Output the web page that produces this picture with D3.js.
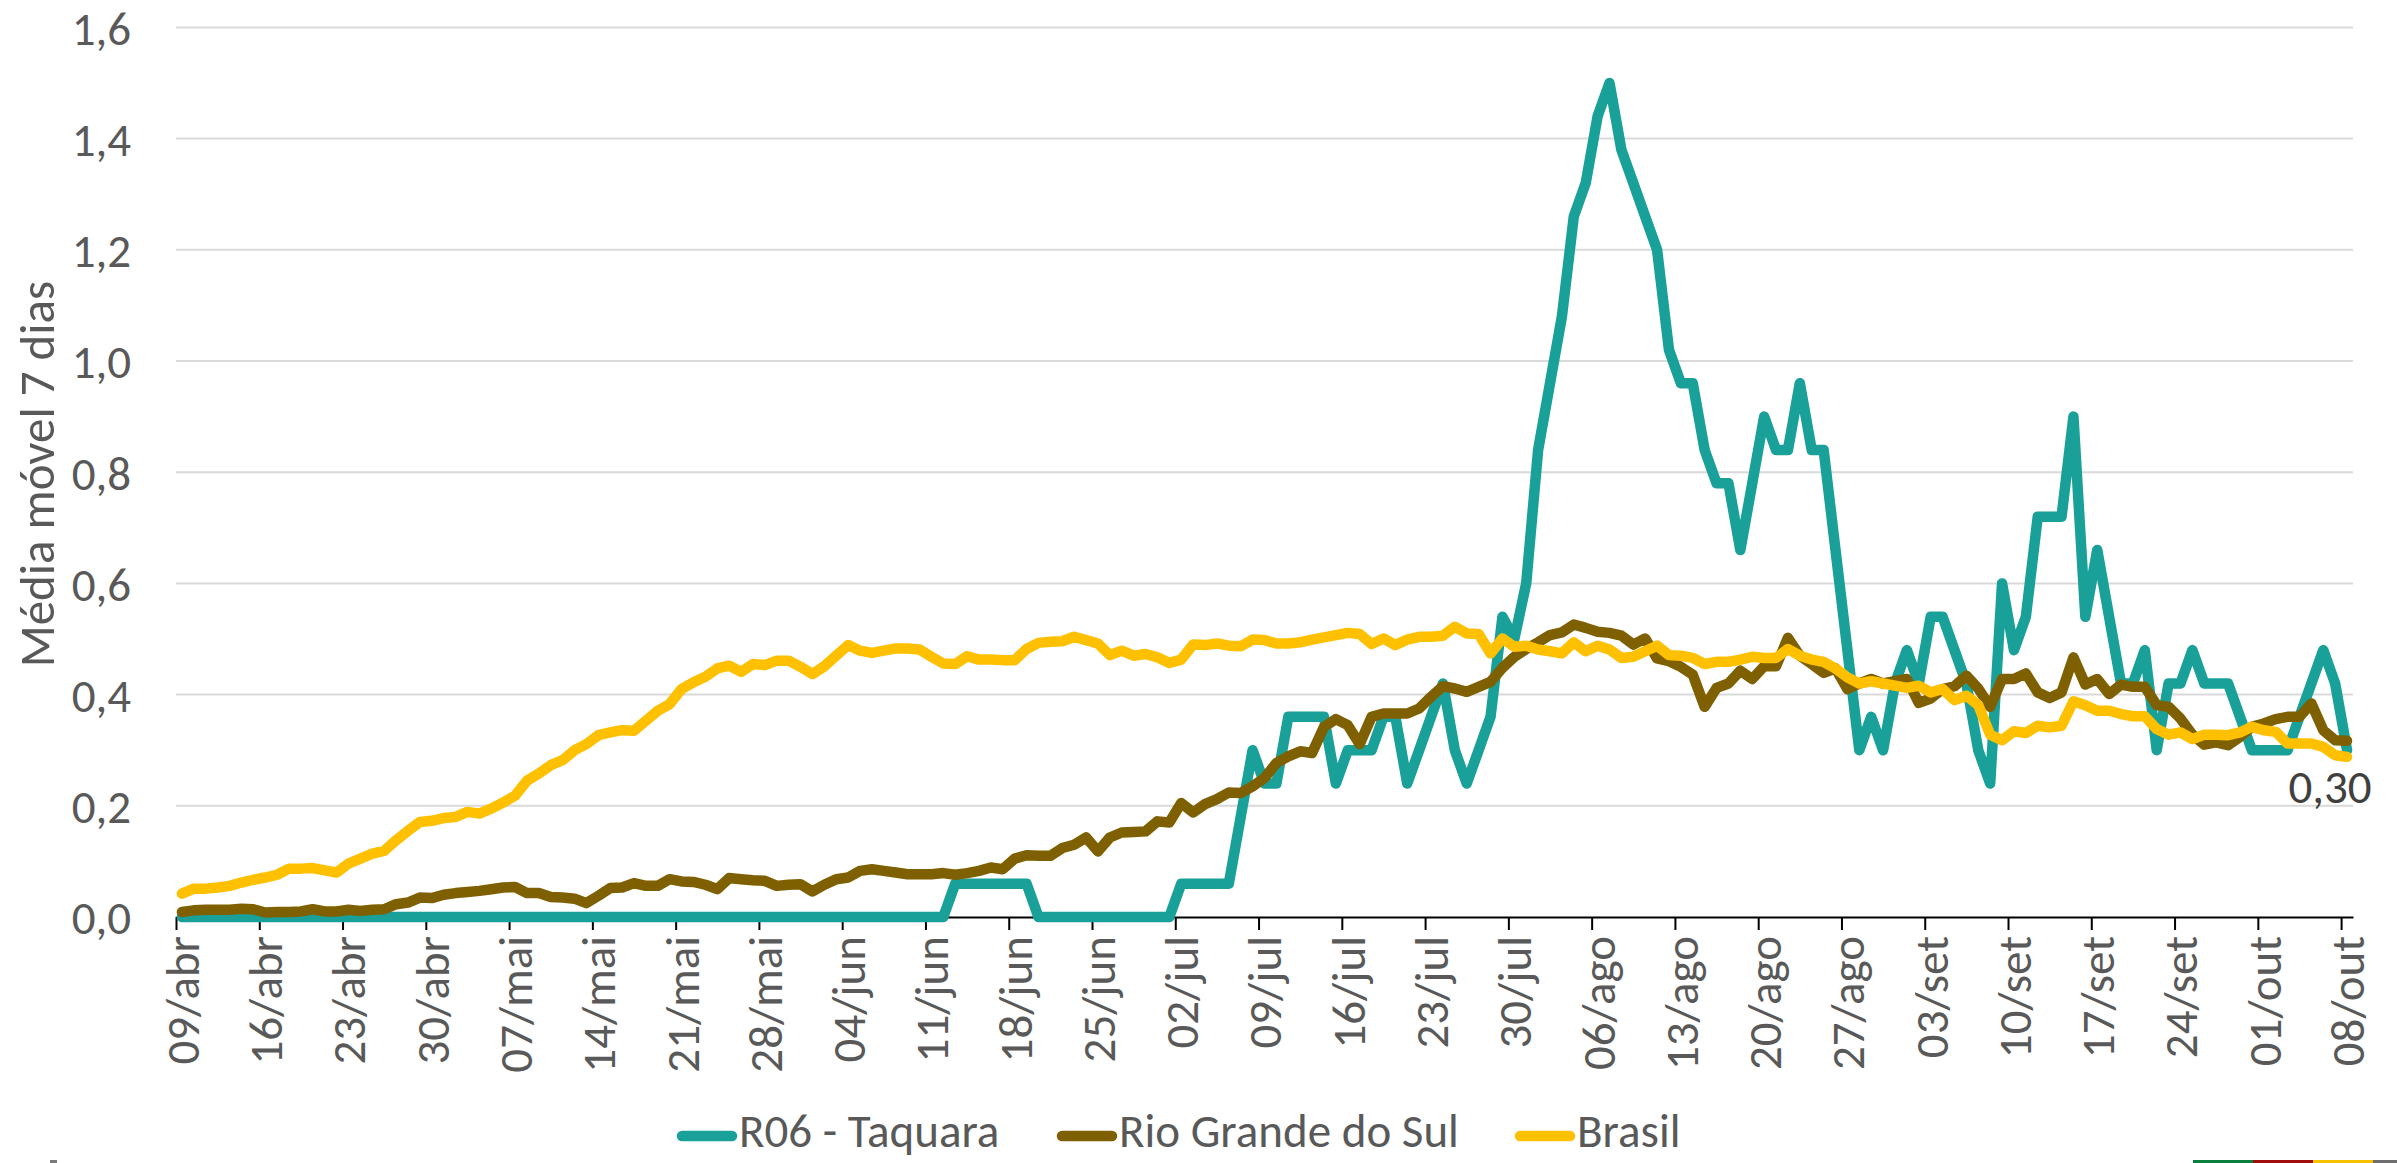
<!DOCTYPE html>
<html lang="pt-BR">
<head>
<meta charset="utf-8">
<title>Média móvel 7 dias</title>
<script src="https://cdn.jsdelivr.net/npm/d3@7"></script>
<style>
  html, body { margin: 0; padding: 0; background: #fff; }
  svg { display: block; }
  text { font-family: Carlito, Calibri, Lato, 'Liberation Sans', sans-serif; }
</style>
</head>
<body>
<div id="chart"></div>
<script>
// daily 7-day moving averages, 09/abr .. 08/out (one row = one week)
const tickLabels = [
    '09/abr', '16/abr', '23/abr', '30/abr', '07/mai', '14/mai', '21/mai', '28/mai',
    '04/jun', '11/jun', '18/jun', '25/jun', '02/jul', '09/jul', '16/jul', '23/jul',
    '30/jul', '06/ago', '13/ago', '20/ago', '27/ago', '03/set', '10/set', '17/set',
    '24/set', '01/out', '08/out'
];

const taquara = [
    0, 0, 0, 0, 0, 0, 0,
    0, 0, 0, 0, 0, 0, 0,
    0, 0, 0, 0, 0, 0, 0,
    0, 0, 0, 0, 0, 0, 0,
    0, 0, 0, 0, 0, 0, 0,
    0, 0, 0, 0, 0, 0, 0,
    0, 0, 0, 0, 0, 0, 0,
    0, 0, 0, 0, 0, 0, 0,
    0, 0, 0, 0, 0, 0, 0,
    0, 0, 0.06, 0.06, 0.06, 0.06, 0.06,
    0.06, 0.06, 0, 0, 0, 0, 0,
    0, 0, 0, 0, 0, 0, 0,
    0.06, 0.06, 0.06, 0.06, 0.06, 0.18, 0.30,
    0.24, 0.24, 0.36, 0.36, 0.36, 0.36, 0.24,
    0.30, 0.30, 0.30, 0.36, 0.36, 0.24, 0.30,
    0.36, 0.42, 0.30, 0.24, 0.30, 0.36, 0.54,
    0.50, 0.60, 0.84, 0.96, 1.08, 1.26, 1.32,
    1.44, 1.50, 1.38, 1.32, 1.26, 1.20, 1.02,
    0.96, 0.96, 0.84, 0.78, 0.78, 0.66, 0.78,
    0.90, 0.84, 0.84, 0.96, 0.84, 0.84, 0.66,
    0.48, 0.30, 0.36, 0.30, 0.42, 0.48, 0.42,
    0.54, 0.54, 0.48, 0.42, 0.30, 0.24, 0.60,
    0.48, 0.54, 0.72, 0.72, 0.72, 0.90, 0.54,
    0.66, 0.54, 0.42, 0.42, 0.48, 0.30, 0.42,
    0.42, 0.48, 0.42, 0.42, 0.42, 0.36, 0.30,
    0.30, 0.30, 0.30, 0.36, 0.42, 0.48, 0.42,
    0.30
];

const rioGrandeDoSul = [
    0.009, 0.012, 0.013, 0.013, 0.013, 0.015, 0.014,
    0.008, 0.009, 0.009, 0.010, 0.014, 0.010, 0.010,
    0.013, 0.011, 0.013, 0.014, 0.023, 0.026, 0.035,
    0.034, 0.040, 0.043, 0.045, 0.047, 0.050, 0.053,
    0.054, 0.043, 0.043, 0.036, 0.035, 0.033, 0.025,
    0.038, 0.052, 0.053, 0.061, 0.056, 0.056, 0.068,
    0.064, 0.063, 0.058, 0.050, 0.070, 0.068, 0.066,
    0.065, 0.056, 0.058, 0.059, 0.046, 0.058, 0.068,
    0.071, 0.083, 0.086, 0.083, 0.080, 0.077, 0.077,
    0.077, 0.079, 0.076, 0.079, 0.083, 0.089, 0.086,
    0.105, 0.111, 0.110, 0.110, 0.124, 0.130, 0.143,
    0.118, 0.143, 0.152, 0.153, 0.154, 0.172, 0.170,
    0.205, 0.188, 0.203, 0.212, 0.224, 0.223, 0.235,
    0.250, 0.277, 0.289, 0.298, 0.295, 0.342, 0.356,
    0.345, 0.311, 0.360, 0.366, 0.366, 0.366, 0.375,
    0.396, 0.415, 0.411, 0.405, 0.414, 0.423, 0.448,
    0.468, 0.482, 0.494, 0.507, 0.512, 0.526, 0.520,
    0.513, 0.511, 0.506, 0.490, 0.501, 0.465, 0.460,
    0.450, 0.436, 0.378, 0.412, 0.420, 0.443, 0.428,
    0.451, 0.451, 0.502, 0.470, 0.455, 0.439, 0.447,
    0.410, 0.420, 0.428, 0.420, 0.424, 0.428, 0.385,
    0.393, 0.410, 0.415, 0.434, 0.411, 0.378, 0.428,
    0.428, 0.438, 0.404, 0.394, 0.404, 0.467, 0.418,
    0.428, 0.401, 0.418, 0.414, 0.414, 0.381, 0.378,
    0.357, 0.328, 0.310, 0.314, 0.309, 0.324, 0.342,
    0.348, 0.356, 0.360, 0.360, 0.384, 0.336, 0.318,
    0.317
];

const brasil = [
    0.042, 0.051, 0.051, 0.053, 0.056, 0.062, 0.067,
    0.071, 0.076, 0.087, 0.087, 0.088, 0.084, 0.080,
    0.096, 0.105, 0.114, 0.119, 0.138, 0.155, 0.171,
    0.173, 0.178, 0.180, 0.189, 0.186, 0.195, 0.206,
    0.218, 0.245, 0.258, 0.273, 0.282, 0.300, 0.311,
    0.327, 0.332, 0.336, 0.335, 0.353, 0.371, 0.383,
    0.410, 0.422, 0.432, 0.447, 0.452, 0.441, 0.455,
    0.453, 0.461, 0.461, 0.450, 0.437, 0.451, 0.470,
    0.489, 0.479, 0.475, 0.479, 0.483, 0.483, 0.481,
    0.468, 0.456, 0.455, 0.469, 0.463, 0.463, 0.462,
    0.462, 0.482, 0.493, 0.495, 0.496, 0.504, 0.498,
    0.492, 0.471, 0.479, 0.470, 0.473, 0.467, 0.457,
    0.463, 0.490, 0.489, 0.492, 0.488, 0.487, 0.499,
    0.498, 0.492, 0.492, 0.494, 0.499, 0.503, 0.507,
    0.511, 0.509, 0.491, 0.501, 0.489, 0.499, 0.504,
    0.504, 0.506, 0.522, 0.510, 0.509, 0.474, 0.501,
    0.486, 0.488, 0.481, 0.478, 0.474, 0.494, 0.478,
    0.488, 0.481, 0.466, 0.468, 0.478, 0.488, 0.471,
    0.470, 0.466, 0.455, 0.459, 0.459, 0.463, 0.468,
    0.466, 0.466, 0.482, 0.470, 0.463, 0.459, 0.447,
    0.431, 0.420, 0.424, 0.420, 0.416, 0.412, 0.416,
    0.404, 0.410, 0.390, 0.398, 0.381, 0.328, 0.318,
    0.334, 0.331, 0.344, 0.341, 0.344, 0.388, 0.381,
    0.371, 0.371, 0.365, 0.361, 0.361, 0.338, 0.328,
    0.332, 0.320, 0.328, 0.328, 0.327, 0.332, 0.342,
    0.336, 0.333, 0.312, 0.312, 0.312, 0.306, 0.291,
    0.288
];

const seriesNames = ['R06 - Taquara', 'Rio Grande do Sul', 'Brasil'];
const seriesColors = ['#19a098', '#7f6000', '#ffc000'];
const yTicks = [0, 0.2, 0.4, 0.6, 0.8, 1.0, 1.2, 1.4, 1.6];
const yTitle = 'Média móvel 7 dias';
const labelStep = 7;

const width = 2397;
const height = 1163;
const plot = { left: 176, right: 2353, top: 27.4, bottom: 917 };
const fontSize = 47;
const textGray = '#595959';

const svg = d3.select('#chart')
    .append('svg')
    .attr('width', width)
    .attr('height', height);

svg.append('rect')
    .attr('width', width)
    .attr('height', height)
    .attr('fill', '#fff');

const n = brasil.length;
const days = d3.range(n);

const x = d3.scaleBand()
    .domain(days)
    .range([plot.left, plot.right]);
const xMid = i => x(i) + x.bandwidth() / 2;

// category boundaries, for the tick marks
const xEdge = d3.scaleLinear()
    .domain([0, n])
    .range([plot.left, plot.right]);

const y = d3.scaleLinear()
    .domain([0, 1.6])
    .range([plot.bottom, plot.top]);

const ptBR = d3.formatLocale({ decimal: ',', thousands: '.', grouping: [3], currency: ['R$ ', ''] });
const fmt1 = ptBR.format('.1f');
const fmt2 = ptBR.format('.2f');

// gridlines
svg.append('g')
    .selectAll('line')
    .data(yTicks.filter(t => t > 0))
    .join('line')
    .attr('x1', plot.left)
    .attr('x2', plot.right)
    .attr('y1', d => y(d))
    .attr('y2', d => y(d))
    .attr('stroke', '#d9d9d9')
    .attr('stroke-width', 2);

// y axis labels
const yAxis = svg.append('g')
    .attr('transform', `translate(${plot.left},0)`)
    .call(d3.axisLeft(y).tickValues(yTicks).tickFormat(fmt1).tickSize(0).tickPadding(45));
yAxis.select('.domain').remove();
yAxis.selectAll('text')
    .attr('dy', '0.36em')
    .attr('font-size', fontSize)
    .attr('font-family', null)
    .attr('fill', textGray);

svg.append('text')
    .attr('transform', `translate(54,474) rotate(-90)`)
    .attr('text-anchor', 'middle')
    .attr('font-size', fontSize + 2)
    .attr('fill', textGray)
    .text(yTitle);

// x axis line and tick marks
const xAxis = svg.append('g')
    .attr('transform', `translate(0,${plot.bottom})`)
    .call(d3.axisBottom(xEdge)
        .tickValues(d3.range(0, n, labelStep))
        .tickFormat('')
        .tickSize(13)
        .tickSizeOuter(0));
xAxis.select('.domain').attr('stroke', '#000').attr('stroke-width', 2);
xAxis.selectAll('.tick line').attr('stroke', '#000').attr('stroke-width', 2);

// x labels, rotated, centred on their category
svg.append('g')
    .selectAll('text')
    .data(tickLabels)
    .join('text')
    .attr('transform', (d, i) => `translate(${xMid(i * labelStep)},${plot.bottom + 19}) rotate(-90)`)
    .attr('text-anchor', 'end')
    .attr('dy', '0.36em')
    .attr('font-size', fontSize)
    .attr('fill', textGray)
    .text(d => d);

// series
const series = [taquara, rioGrandeDoSul, brasil];
const line = d3.line()
    .x((d, i) => xMid(i))
    .y(d => y(d));

svg.append('g')
    .selectAll('path')
    .data(series)
    .join('path')
    .attr('d', line)
    .attr('fill', 'none')
    .attr('stroke', (d, i) => seriesColors[i])
    .attr('stroke-width', 10.5)
    .attr('stroke-linejoin', 'round')
    .attr('stroke-linecap', 'round');

// last value label for Taquara
const last = n - 1;
svg.append('text')
    .attr('x', xMid(last) - 17)
    .attr('y', y(taquara[last]) + 53)
    .attr('text-anchor', 'middle')
    .attr('font-size', fontSize)
    .attr('fill', '#404040')
    .text(fmt2(taquara[last]));

// legend
const legendX = [677, 1057, 1515];
const legend = svg.append('g')
    .selectAll('g')
    .data(seriesNames)
    .join('g')
    .attr('transform', (d, i) => `translate(${legendX[i]},0)`);

legend.append('line')
    .attr('x1', 5)
    .attr('x2', 55)
    .attr('y1', 1136)
    .attr('y2', 1136)
    .attr('stroke', (d, i) => seriesColors[i])
    .attr('stroke-width', 10.5)
    .attr('stroke-linecap', 'round');

legend.append('text')
    .attr('x', 62)
    .attr('y', 1147)
    .attr('font-size', fontSize)
    .attr('fill', textGray)
    .text(d => d);

// strip at the bottom edge
const strip = [['#0b7f3e', 2193, 60], ['#a10c0c', 2253, 60], ['#f6c200', 2313, 60], ['#6e6e6e', 2373, 24], ['#7a7a7a', 50, 7]];
svg.append('g')
    .selectAll('rect')
    .data(strip)
    .join('rect')
    .attr('x', d => d[1])
    .attr('y', height - 3)
    .attr('width', d => d[2])
    .attr('height', 3)
    .attr('fill', d => d[0]);
</script>
</body>
</html>
